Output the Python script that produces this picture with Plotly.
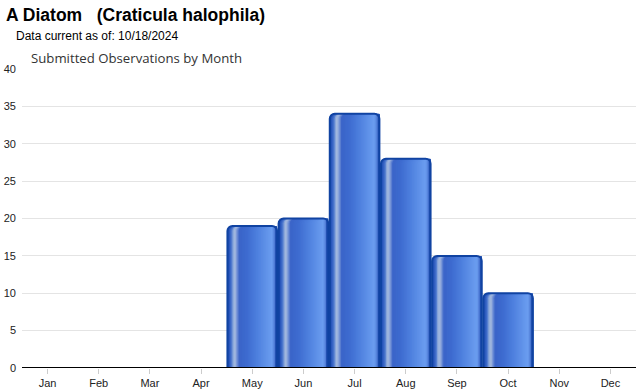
import plotly.graph_objects as go

months = ["Jan", "Feb", "Mar", "Apr", "May", "Jun", "Jul", "Aug", "Sep", "Oct", "Nov", "Dec"]
observations = [0, 0, 0, 0, 19, 20, 34, 28, 15, 10, 0, 0]
y_ticks = [0, 5, 10, 15, 20, 25, 30, 35, 40]

title_text = "A Diatom   (Craticula halophila)"
subtitle_text = "Data current as of: 10/18/2024"
chart_title = "Submitted Observations by Month"

BAR_W = 0.97
# horizontal gradient stops across a bar (fraction, rgb) - styling only
stops = [
    (0.00, (20, 66, 165)),
    (0.04, (45, 90, 190)),
    (0.08, (70, 115, 205)),
    (0.12, (150, 175, 220)),
    (0.15, (168, 188, 224)),
    (0.19, (120, 150, 215)),
    (0.24, (58, 100, 200)),
    (0.40, (62, 108, 208)),
    (0.60, (78, 128, 222)),
    (0.80, (98, 148, 234)),
    (0.90, (108, 158, 240)),
    (0.95, (80, 125, 215)),
    (1.00, (20, 66, 165)),
]

def color_at(t):
    for (t0, c0), (t1, c1) in zip(stops, stops[1:]):
        if t0 <= t <= t1:
            f = (t - t0) / (t1 - t0) if t1 > t0 else 0
            c = [round(c0[i] + (c1[i] - c0[i]) * f) for i in range(3)]
            return "rgb(%d,%d,%d)" % tuple(c)
    return "rgb(20,66,165)"

N = 40
fig = go.Figure()
fig.add_trace(go.Bar(x=months, y=observations, width=BAR_W, offset=-BAR_W / 2,
                     marker=dict(color="#1544a6", line=dict(width=0), cornerradius=5),
                     hoverinfo="skip", showlegend=False))
for k in range(N):
    a = k / N
    fig.add_trace(go.Bar(x=months, y=observations, width=BAR_W * (1 - a),
                         offset=-BAR_W / 2 + BAR_W * a,
                         marker=dict(color=color_at(a + 0.5 / N), line=dict(width=0), cornerradius=5),
                         hoverinfo="skip", showlegend=False))
fig.add_trace(go.Bar(x=months, y=observations, width=BAR_W, offset=-BAR_W / 2,
                     marker=dict(color="rgba(0,0,0,0)", line=dict(width=2, color="#1043a2"), cornerradius=5),
                     showlegend=False))

L, R, T, B = 22, 4, 69, 22
W, H = 640, 390
pw, ph = W - L - R, H - T - B
def px(x): return (x - L) / pw
def py(y): return (H - B - y) / ph

fig.update_layout(
    barmode="overlay",
    width=W, height=H,
    margin=dict(l=L, r=R, t=T, b=B, autoexpand=False),
    plot_bgcolor="white", paper_bgcolor="white",
    font=dict(family="Arial, Liberation Sans, sans-serif", size=11, color="#222"),
    xaxis=dict(type="category", range=[-0.5, 11.5], showgrid=False, automargin=False,
               showline=False,
               ticks="outside", ticklen=5, tickcolor="#cccccc", tickwidth=1,
               tickfont=dict(size=11, color="#222"), fixedrange=True),
    yaxis=dict(range=[0, 40], tickvals=y_ticks, showgrid=True, gridcolor="#e4e4e4",
               zeroline=False, showline=False, ticks="", ticklabelstandoff=5, automargin=False,
               tickfont=dict(size=11, color="#222"), fixedrange=True),
    annotations=[
        dict(text="<b>" + title_text + "</b>", x=px(4), y=py(15), xref="paper", yref="paper",
             xanchor="left", yanchor="middle", showarrow=False,
             font=dict(size=17.5, color="black", family="Arial, Liberation Sans, sans-serif")),
        dict(text=subtitle_text, x=px(14), y=py(36), xref="paper", yref="paper",
             xanchor="left", yanchor="middle", showarrow=False,
             font=dict(size=12, color="black", family="Arial, Liberation Sans, sans-serif")),
        dict(text=chart_title, x=px(29), y=py(58), xref="paper", yref="paper",
             xanchor="left", yanchor="middle", showarrow=False,
             font=dict(size=13.2, color="#333", family="Open Sans, sans-serif")),
    ],
)
fig.add_shape(type="line", xref="paper", yref="y", x0=0, x1=1, y0=0, y1=0,
              line=dict(color="black", width=2), layer="above")

fig.write_html("out.html", config={"displayModeBar": False},
               post_script="document.body.style.margin='0';")
